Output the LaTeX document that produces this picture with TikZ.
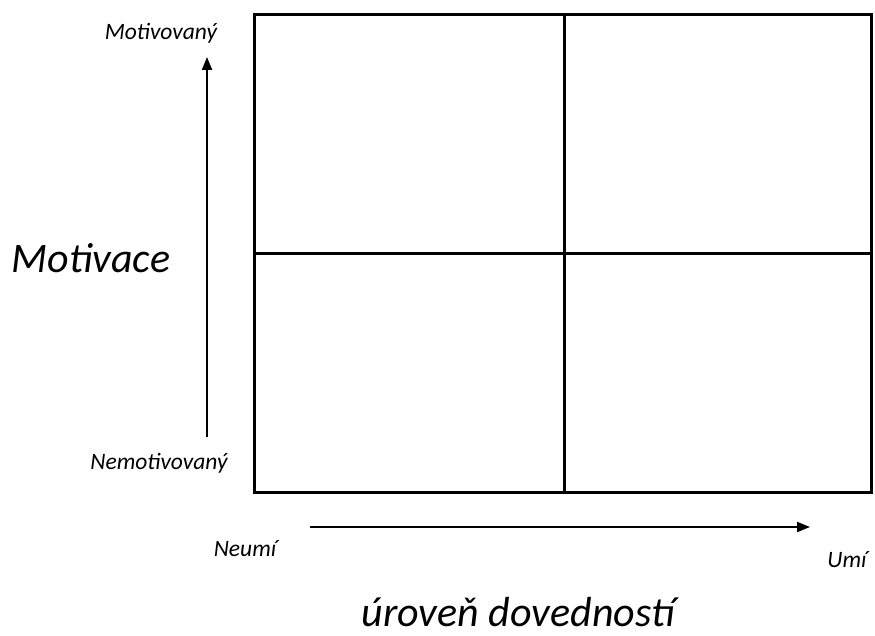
\documentclass[tikz,border=0pt]{standalone}
\usepackage{fontspec}
\setmainfont{Carlito}
\usetikzlibrary{arrows.meta}
\begin{document}
\begin{tikzpicture}[x=1pt,y=-1pt,
  grid/.style={line width=3pt},
  axis/.style={line width=2pt,-{Triangle[length=13pt,width=10pt]}},
  lbl/.style={inner sep=0pt,font=\itshape\fontsize{23.5}{27}\selectfont},
  big/.style={inner sep=0pt,font=\itshape\fontsize{42}{48}\selectfont}]
\useasboundingbox (0,0) rectangle (875,636);
\coordinate (tl) at (254,15);
\coordinate (br) at (871,492);
\draw[grid] (tl) rectangle (br);
\coordinate (mt) at (564,15);
\coordinate (mb) at (564,492);
\coordinate (ml) at (254,254);
\coordinate (mr) at (871,254);
\draw[grid] (mt) -- (mb);
\draw[grid] (ml) -- (mr);
\coordinate (vs) at (207,437);
\coordinate (ve) at (207,57);
\draw[axis] (vs) -- (ve);
\coordinate (hs) at (310,527);
\coordinate (he) at (810,527);
\draw[axis] (hs) -- (he);
\node[lbl] (motiv) at (161,33) {Motivovaný};
\node[lbl] (nemotiv) at (159,463) {Nemotivovaný};
\node[lbl] (neumi) at (245,549) {Neumí};
\node[lbl] (umi) at (847,560) {Umí};
\node[big] (motivace) at (91,258) {Motivace};
\node[big] (uroven) at (518,612) {úroveň dovedností};
\end{tikzpicture}
\end{document}
